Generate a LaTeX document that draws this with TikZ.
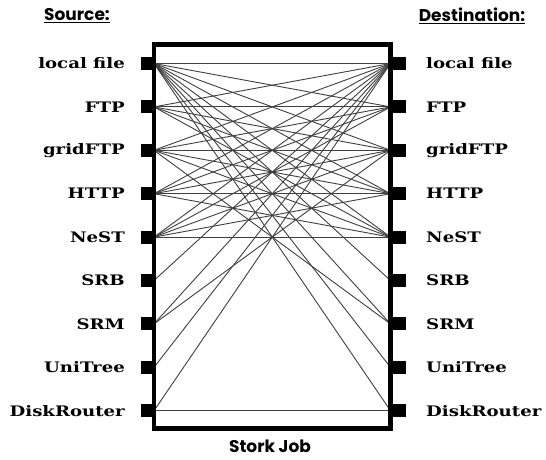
\documentclass[tikz,border=0pt]{standalone}
\usepackage{fontspec}
\newfontfamily\labfont{DejaVu Serif}[FakeStretch=1.25]
\newfontfamily\titfont{Poppins}
\begin{document}
\begin{tikzpicture}[x=1pt,y=-1pt,
  lab/.style={font=\labfont\bfseries\fontsize{14.5}{16}\selectfont, inner sep=0pt},
  port/.style={fill=black, draw=none, minimum width=14pt, minimum height=13pt, inner sep=0pt},
  title/.style={font=\titfont\bfseries\fontsize{17}{19}\selectfont, inner sep=0pt},
  wire/.style={draw=black!75, line width=0.9pt}]
\useasboundingbox[fill=white] (0,0) rectangle (546,459);
\def\names{local file,FTP,gridFTP,HTTP,NeST,SRB,SRM,UniTree,DiskRouter}
\foreach \n [count=\i] in \names {
  \pgfmathsetmacro{\yy}{63.5+43.4*(\i-1)}
  \coordinate (L\i) at (154,\yy);
  \coordinate (R\i) at (390.5,\yy);
}
% wires
\foreach \i in {1,...,5}{\foreach \j in {1,...,5}{\draw[wire] (L\i) -- (R\j);}}
\foreach \a/\b in {6/1,7/1,7/3,8/1,9/1,9/9}{\draw[wire] (L\a) -- (R\b);}
\foreach \a/\b in {6/1,7/1,7/3,8/1,9/1}{\draw[wire] (R\a) -- (L\b);}
% box
\node[draw, line width=4.5pt, minimum width=236.5pt, minimum height=384pt, inner sep=0pt] (box) at (272.25,236.5) {};
% ports and labels
\foreach \n [count=\i] in \names {
  \node[port] (pl\i) at ([xshift=-6.5pt]L\i) {};
  \node[port] (pr\i) at ([xshift=8.5pt]R\i) {};
  \node[lab, anchor=east] (tl\i) at (125,{63.5+43.4*(\i-1)}) {\n};
  \node[lab, anchor=west] (tr\i) at (426,{63.5+43.4*(\i-1)}) {\n};
}
\node[title] (src) at (77,16) {\underline{Source:}};
\node[title] (dst) at (472,16) {\underline{Destination:}};
\node[title] (job) at (270,446) {Stork Job};
\end{tikzpicture}
\end{document}
